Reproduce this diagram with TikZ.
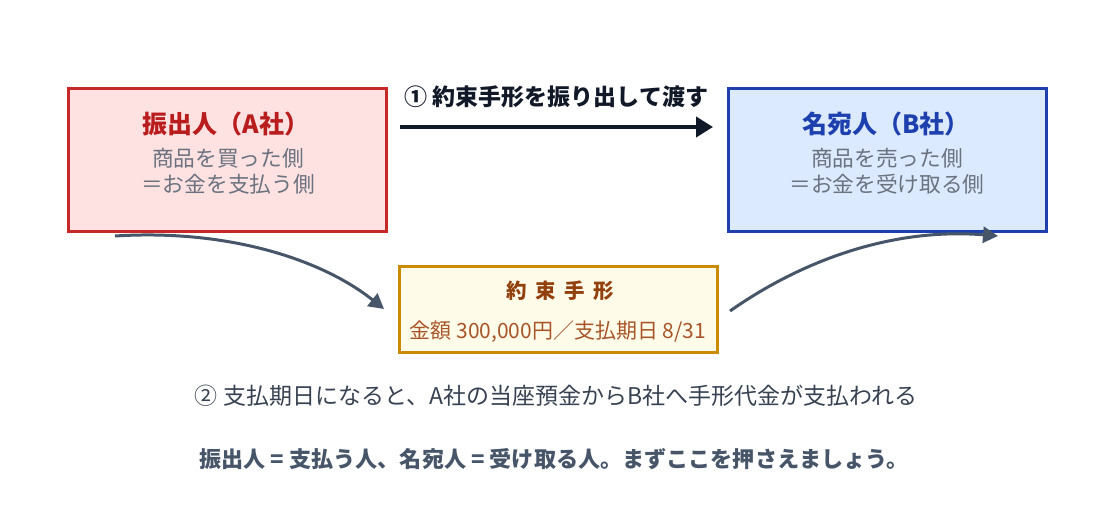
\documentclass[tikz,border=0pt]{standalone}
\usepackage{fontspec}
\setmainfont{Noto Sans CJK JP}
\usetikzlibrary{arrows.meta}
\definecolor{redB}{HTML}{C62828}
\definecolor{redF}{HTML}{FEE2E2}
\definecolor{redT}{HTML}{B91C1C}
\definecolor{bluB}{HTML}{1E40AF}
\definecolor{bluF}{HTML}{DBEAFE}
\definecolor{bluT}{HTML}{1E40AF}
\definecolor{gldB}{HTML}{CA8A04}
\definecolor{gldF}{HTML}{FEFBE8}
\definecolor{gldT}{HTML}{92400E}
\definecolor{gldS}{HTML}{A8552A}
\definecolor{subG}{HTML}{6B7280}
\definecolor{darkA}{HTML}{111827}
\definecolor{slateA}{HTML}{475569}
\definecolor{txtA}{HTML}{374151}
\tikzset{
  party/.style={draw, line width=3pt, minimum width=318pt, minimum height=143pt, inner sep=0pt},
  billbox/.style={draw=gldB, fill=gldF, line width=3pt, minimum width=318pt, minimum height=86pt, inner sep=0pt},
  ttl/.style={font=\fontsize{25}{28}\selectfont\bfseries, inner sep=0pt},
  subt/.style={font=\fontsize{21.7}{24}\selectfont, text=subG, inner sep=0pt},
  flow/.style={line width=3pt, draw=slateA, -{Triangle[length=15pt,width=16pt]}},
}
\begin{document}
\begin{tikzpicture}[x=1pt,y=-1pt]
\useasboundingbox (0,0) rectangle (1114,530);
% boxes
\node[party, draw=redB, fill=redF] (A) at (227.5,160) {};
\node[party, draw=bluB, fill=bluF] (B) at (887,160) {};
\node[billbox] (N) at (558,309.5) {};
% texts in boxes
\node[ttl, text=redT] (At) at (226,124) {振出人（A社）};
\node[subt] (As1) at (228,158) {商品を買った側};
\node[subt] (As2) at (228,184) {＝お金を支払う側};
\node[ttl, text=bluT] (Bt) at (886,124) {名宛人（B社）};
\node[subt] (Bs1) at (887,158) {商品を売った側};
\node[subt] (Bs2) at (887,184) {＝お金を受け取る側};
\node[font=\fontsize{20.5}{24}\selectfont\bfseries, text=gldT, inner sep=0pt] (Nt) at (560,291) {約\hspace{0.42em}束\hspace{0.42em}手\hspace{0.42em}形};
\node[font=\fontsize{21}{24}\selectfont, text=gldS, inner sep=0pt] (Ns) at (558,332) {金額 300,000円／支払期日 8/31};
% top arrow
\coordinate (a1) at (400,127);
\coordinate (a2) at (713,127);
\draw[line width=4pt, darkA, -{Triangle[length=17pt,width=20pt]}] (a1) -- (a2)
  node[midway, above=17pt, inner sep=0pt, font=\fontsize{23}{26}\selectfont\bfseries, text=darkA] (lab1) {① 約束手形を振り出して渡す};
% curved arrows
\coordinate (c1s) at (115,236);
\coordinate (c1e) at (384,309);
\draw[flow] (c1s) .. controls (225,229) and (320,258) .. (c1e);
\coordinate (c2s) at (730,311);
\coordinate (c2e) at (998,236);
\draw[flow] (c2s) .. controls (810,255) and (900,228) .. (c2e);
% bottom texts
\node[font=\fontsize{23}{26}\selectfont, text=txtA, inner sep=0pt] (L2) at (556,396) {② 支払期日になると、A社の当座預金からB社へ手形代金が支払われる};
\node[font=\fontsize{22.1}{26}\selectfont\bfseries, text=slateA, inner sep=0pt] (L3) at (554,459) {振出人 = 支払う人、名宛人 = 受け取る人。まずここを押さえましょう。};
\end{tikzpicture}
\end{document}
